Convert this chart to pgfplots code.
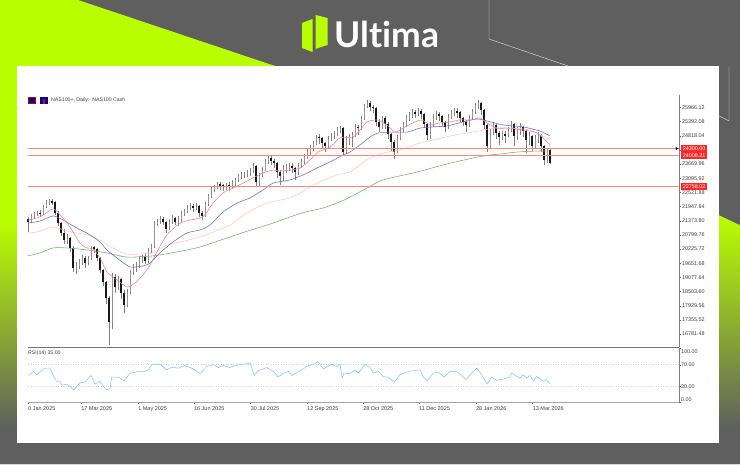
\documentclass[border=0pt]{standalone}
\usepackage{fontspec}
\setmainfont{Liberation Sans}
\newfontfamily\logofont{Lato}[Ligatures=NoCommon]
\usepackage{pgfplots}
\usepackage{pgfplotstable}
\pgfplotsset{compat=1.18}
\definecolor{lime}{RGB}{186,255,0}
\definecolor{bgg}{RGB}{95,95,95}
\definecolor{hl}{RGB}{244,135,135}
\definecolor{maR}{RGB}{238,130,130}
\definecolor{maB}{RGB}{105,105,210}
\definecolor{maP}{RGB}{250,200,190}
\definecolor{maG}{RGB}{110,175,110}
\definecolor{rsi}{RGB}{130,190,240}
\definecolor{tag}{RGB}{255,40,40}
\pgfplotstableread{
k o c h l
0 21460 21320 21530 20920
1 21320 21570 21650 21280
2 21570 21650 21740 21450
3 21650 21690 21780 21560
4 21690 21650 21790 21530
5 21650 21930 22000 21600
6 21930 22090 22200 21880
7 22090 22170 22260 22030
8 22170 22130 22250 22000
9 22130 21690 22180 21620
10 21690 21280 21750 21150
11 21280 20880 21320 20740
12 20880 20590 21020 20420
13 20590 20670 20840 20430
14 20670 20270 20720 20120
15 20270 19460 20340 19300
16 19460 19540 19720 19200
17 19540 19700 19840 19400
18 19700 19860 19980 19560
19 19860 19660 19930 19440
20 19660 19860 19960 19560
21 19860 20230 20330 19800
22 20300 20230 20350 20060
23 20230 19860 20280 19740
24 19860 19380 19900 19240
25 19380 18890 19420 18720
26 18890 18240 18950 18000
27 18240 17270 18310 16330
28 17270 19090 19250 17000
29 19090 18690 19200 18450
30 18690 19010 19150 18550
31 19010 18440 19060 18200
32 18440 17960 18560 17640
33 17960 18480 18620 17880
34 18480 19300 19380 18400
35 19300 19460 19620 19180
36 19460 19540 19700 19300
37 19540 19820 19950 19440
38 19820 19900 20000 19660
39 19900 19740 20070 19600
40 19740 20150 20260 19680
41 20150 20350 20440 20050
42 20350 21240 21350 20260
43 21240 21360 21460 21150
44 21360 21440 21560 21260
45 21440 21320 21520 21200
46 21320 21040 21380 20880
47 21040 21320 21440 20980
48 21320 21480 21600 21260
49 21480 21320 21540 21200
50 21320 21440 21560 21160
51 21440 21650 21760 21340
52 21650 21770 21870 21580
53 21770 21890 22000 21700
54 21890 21970 22090 21810
55 21970 21890 22040 21730
56 21890 21970 22100 21790
57 21970 21690 22020 21540
58 21690 21570 21770 21420
59 21570 22050 22140 21520
60 22050 22380 22450 21980
61 22380 22620 22730 22300
62 22620 22740 22840 22520
63 22740 22860 22960 22660
64 22860 22820 22950 22640
65 22820 22740 22880 22600
66 22740 22780 22920 22640
67 22840 22780 22940 22600
68 22780 22900 23010 22700
69 22900 23030 23120 22780
70 23030 23190 23280 22960
71 23190 23230 23340 23070
72 23230 23270 23370 23110
73 23270 23350 23450 23160
74 23350 23390 23510 23200
75 23390 23590 23720 23310
76 23590 22940 23640 22740
77 22940 23190 23300 22780
78 23190 23430 23540 23130
79 23430 23760 23880 23380
80 23760 23920 24000 23680
81 23920 23800 23980 23620
82 23800 23720 23870 23520
83 23720 23350 23760 23110
84 23350 23190 23420 22810
85 23190 23510 23630 23000
86 23440 23510 23680 23320
87 23510 23590 23720 23380
88 23590 23510 23700 23330
89 23510 23350 23560 23030
90 23350 23590 23700 23210
91 23590 23760 23880 23500
92 23760 23960 24060 23680
93 23960 24160 24270 23880
94 24160 24280 24430 24040
95 24280 24490 24610 24200
96 24490 24730 24860 24440
97 24780 24730 24880 24500
98 24730 24530 24770 24330
99 24530 24400 24580 24170
100 24400 24690 24790 24320
101 24690 24810 24920 24600
102 24810 24890 25000 24690
103 24890 25050 25160 24800
104 25050 25130 25210 24930
105 25130 24160 25190 24010
106 24160 24650 24800 24080
107 24650 24770 24900 24440
108 24770 24850 24980 24350
109 24850 25180 25280 24770
110 25180 25130 25260 24850
111 25130 25540 25620 25050
112 25540 26030 26110 25460
113 26030 26150 26290 25950
114 26150 25990 26230 25820
115 25990 25950 26080 25760
116 25950 25380 25990 25220
117 25380 25180 25480 24970
118 25180 25540 25620 25100
119 25540 25300 25620 25090
120 25300 24890 25360 24690
121 24890 24570 24940 24200
122 24570 24160 24650 23860
123 24160 24730 24840 24120
124 24730 25050 25180 24640
125 25050 25260 25380 24970
126 25260 25540 25660 25180
127 25540 25660 25790 25420
128 25660 25780 25910 25540
129 25780 25740 25870 25540
130 25740 25820 25950 25620
131 25820 25700 25910 25500
132 25700 25300 25750 25130
133 25300 24850 25340 24640
134 24850 25260 25360 24700
135 25260 25580 25690 25170
136 25580 25700 25820 25460
137 25700 25620 25800 25420
138 25620 25380 25670 25220
139 25380 25180 25420 24980
140 25180 25580 25690 25090
141 25580 25740 25860 25500
142 25740 25820 25960 25620
143 25820 25780 25940 25560
144 25780 25540 25820 25380
145 25540 25380 25580 25220
146 25380 25260 25440 24990
147 25260 25540 25660 25180
148 25540 25780 25900 25460
149 25780 26030 26130 25700
150 26030 26150 26290 25900
151 26150 25860 26190 25660
152 25860 25260 25900 25090
153 25260 24400 25300 24170
154 24400 24970 25090 24320
155 24970 25260 25380 24850
156 25260 24930 25300 24690
157 24930 24770 25000 24450
158 24770 24890 25020 24650
159 24890 24850 25010 24530
160 24850 25050 25170 24770
161 25050 25300 25420 24970
162 25300 24810 25340 24410
163 24810 25050 25170 24650
164 25050 25180 25330 24860
165 25180 25010 25230 24770
166 25010 24650 25100 24120
167 24650 24810 24970 24450
168 24810 24400 24860 24200
169 24400 24730 24840 24280
170 24730 24850 24970 24530
171 24850 24400 24900 24160
172 24400 23840 24450 23640
173 23840 24240 24340 23720
174 24240 23710 24300 23670
}\candles
\begin{document}
\begin{tikzpicture}[x=1pt,y=1pt]
\path[use as bounding box] (0,0) rectangle (740,465);
\fill[bgg] (0,0) rectangle (740,465);
% lime areas and gradient strips
\fill[lime] (0,465) -- (78,465) -- (275,399) -- (0,399) -- cycle;
\fill[lime] (0,399) rectangle (17.5,245);
\shade[top color=lime,bottom color=bgg] (0,245) rectangle (17.5,35);
\shade[top color=lime,bottom color=bgg] (719,250) -- (740,240) -- (740,35) -- (719,35) -- cycle;
\fill[bgg] (719,250) -- (740,240) -- (740,262) -- (719,262) -- cycle;
% thin outlines
\draw[white!85!black,line width=.45pt] (489,465) -- (489,426) -- (568,399);
\draw[white!85!black,line width=.45pt] (729,398) -- (729,344) -- (719,349);
\fill[white!85!black] (0,0) rectangle (740,1);
% white panel
\fill[white] (17,22) rectangle (719,399);
% logo
\fill[lime] (302,442) -- (312.5,446) -- (312.5,413) -- (302,417) -- cycle;
\fill[lime] (315.5,450) -- (327.5,447) -- (327.5,420) -- (315.5,416) -- cycle;
\node[anchor=base west,inner sep=0pt,text=white] at (334,417.5) {\logofont\bfseries\fontsize{35.5}{38}\selectfont Ultima};
% title
\fill[red!75!black] (28,361) rectangle (36,368);
\fill[blue!55!black] (29,362) rectangle (35,367);
\fill[blue!60!black] (40,361) rectangle (48,368);
\fill[red!85!black] (43,361) rectangle (45,366);
\node[anchor=west,inner sep=0pt,text=black!75] at (51,364.5) {\fontsize{5.2}{6}\selectfont NAS100+, Daily:\ \ NAS100 Cash};
% main pane
\begin{axis}[
  at={(28pt,117.5pt)},anchor=south west,scale only axis,width=651pt,height=252.5pt,
  xmin=0,xmax=217,ymin=16234,ymax=26473,clip=false,scaled y ticks=false,
  axis x line*=bottom,axis y line*=right,axis line style={-},
  x axis line style={draw=black!55,line width=1.3pt},
  y axis line style={draw=black!50,line width=.4pt},
  xtick=\empty,
  ytick={25966.12,25392.08,24818.04,24244.00,23669.96,23095.92,22521.88,21947.84,21373.80,20799.76,20225.72,19651.68,19077.64,18503.60,17929.56,17355.52,16781.48},
  yticklabels={25966.12,25392.08,24818.04,24244.00,23669.96,23095.92,22521.88,21947.84,21373.80,20799.76,20225.72,19651.68,19077.64,18503.60,17929.56,17355.52,16781.48},
  yticklabel style={font=\fontsize{5.4}{6}\selectfont,text=black!75,inner sep=0pt,xshift=1pt},
  major tick length=2pt,tick style={draw=black!60,line width=.3pt},tick align=outside,
]
\addplot[draw=none,no marks,forget plot,error bars/.cd,y dir=both,y explicit,error mark=none,
  error bar style={draw=black!50,line width=.35pt}]
  table[x=k,y expr={(\thisrow{h}+\thisrow{l})/2},y error expr={(\thisrow{h}-\thisrow{l})/2}] {\candles};
\addplot[draw=none,no marks,forget plot,
  error bars/.cd,y dir=both,y explicit,error mark=none,error bar style={draw=black!42,line width=1pt}]
  table[x=k,y expr={\thisrow{c}>=\thisrow{o} ? (\thisrow{o}+\thisrow{c})/2 : nan},y error expr={abs(\thisrow{o}-\thisrow{c})/2}] {\candles};
\addplot[draw=none,no marks,forget plot,
  error bars/.cd,y dir=both,y explicit,error mark=none,error bar style={draw=black!90,line width=1.1pt}]
  table[x=k,y expr={\thisrow{c}<\thisrow{o} ? (\thisrow{o}+\thisrow{c})/2 : nan},y error expr={abs(\thisrow{o}-\thisrow{c})/2}] {\candles};
% moving averages
\addplot[maG,line width=.55pt,no marks,smooth,tension=.4] coordinates {(0,19950)(4,20070)(8.3,20270)(13,20270)(19.7,20190)(26.3,20070)(33,19900)(41.7,19950)(49.7,20110)(57.3,20310)(72.3,20920)(80.7,21240)(91.3,21690)(98.3,21890)(105.3,22210)(113,22700)(118.3,23030)(129.7,23350)(140.7,23710)(151.7,24000)(157.3,24080)(163,24160)(169.7,24200)(173,24200)};
\addplot[maP,line width=.55pt,no marks,smooth,tension=.4] coordinates {(0,20870)(3,20920)(8.3,21120)(14,20920)(19.7,20800)(24,20590)(28.3,20270)(33,20020)(37.3,20020)(41.7,20070)(46.3,20390)(50.7,20510)(57.3,20720)(67.3,21200)(73,21690)(79.7,22090)(88.3,22340)(96.3,22900)(103,23230)(107.3,23350)(113,23840)(118.3,24120)(124,24240)(129.7,24490)(135,24650)(140.7,24810)(146.3,24930)(151.7,25050)(155,25130)(160.7,25130)(167.3,25050)(174,24650)};
\addplot[maB,line width=.55pt,no marks,smooth,tension=.4] coordinates {(0,21280)(4,21360)(8.3,21570)(11.7,21400)(16.3,21080)(20.7,20800)(24,20510)(26.3,20190)(29.7,19860)(34,19500)(38.3,19540)(40.7,19660)(44,20070)(48.3,20510)(53,20880)(57.3,21000)(60.7,21200)(65,21730)(69.7,22090)(74,22300)(78.3,22620)(81.7,22900)(87.3,23030)(91.7,23230)(96.3,23510)(100.7,23760)(105,24040)(107.3,24160)(110.7,24450)(114,24770)(116.7,24930)(121.7,24970)(126.3,24970)(130.7,25130)(135,25180)(139.7,25220)(145,25380)(149.7,25500)(153,25420)(158.3,25260)(165,25180)(170.7,25010)(174,24810)};
\addplot[maR,line width=.55pt,no marks,smooth,tension=.4] coordinates {(0,21400)(4,21530)(8.3,21850)(10.7,21610)(14,21120)(17.3,20470)(19.7,20270)(21.7,20230)(24,19860)(26.3,19300)(29.7,18970)(33,18690)(35.7,18850)(38.3,19170)(40.7,19580)(43,20110)(46.3,20800)(50.7,21280)(54,21400)(58.3,21530)(61.7,22090)(65,22500)(68.3,22700)(71.7,22900)(75,23110)(78.3,23310)(81.7,23430)(84,23390)(87.3,23430)(90.7,23510)(94,23840)(96.7,24160)(100.7,24360)(104,24730)(108.3,24770)(110.7,25050)(113,25380)(116.3,25460)(119.7,25260)(122.3,24970)(125,25130)(128.3,25340)(131.3,25460)(134,25260)(137.3,25340)(140.7,25380)(144,25460)(147.3,25460)(150.7,25540)(153,25340)(156.3,25130)(160.7,25130)(165,25050)(169.7,24930)(174,24450)};
% horizontal levels
\addplot[hl,line width=.85pt,no marks] coordinates {(0,24300)(217,24300)};
\addplot[hl,line width=.85pt,no marks] coordinates {(0,24008.21)(217,24008.21)};
\addplot[hl,line width=.85pt,no marks] coordinates {(0,22757)(217,22757)};
\addplot[only marks,mark=triangle*,mark size=1.3pt,mark options={rotate=-90,fill=black,draw=black}] coordinates {(216.2,24300)};
\node[fill=tag,text=white,inner sep=0pt,anchor=west,minimum width=26pt,minimum height=6.6pt,xshift=2pt,font=\fontsize{5.4}{6}\selectfont] at (axis cs:217,24300) {24300.00};
\node[fill=tag,text=white,inner sep=0pt,anchor=west,minimum width=26pt,minimum height=6.6pt,xshift=2pt,font=\fontsize{5.4}{6}\selectfont] at (axis cs:217,24008.21) {24008.21};
\node[fill=tag,text=white,inner sep=0pt,anchor=west,minimum width=26pt,minimum height=6.6pt,xshift=2pt,font=\fontsize{5.4}{6}\selectfont] at (axis cs:217,22757) {22758.02};
\end{axis}
% RSI pane
\begin{axis}[
  at={(28pt,62.5pt)},anchor=south west,scale only axis,width=651pt,height=54pt,
  xmin=0,xmax=217,ymin=0,ymax=100,clip=false,
  axis x line*=bottom,axis y line*=right,axis line style={-},
  x axis line style={draw=black!35,line width=1.1pt},
  y axis line style={draw=black!50,line width=.4pt},
  xtick={0,17.7,36.7,55.3,74.2,93,111.7,130.3,149.3,168.2},
  xticklabels={0 Jan 2025,17 Mar 2025,1 May 2025,16 Jun 2025,30 Jul 2025,12 Sep 2025,28 Oct 2025,11 Dec 2025,28 Jan 2026,13 Mar 2026},
  xticklabel style={font=\fontsize{5.5}{6}\selectfont,text=black!75,anchor=north west,inner sep=0pt,yshift=-1.5pt},
  ytick={100,70,30,0},yticklabels={,,,},
  major tick length=2pt,tick style={draw=black!60,line width=.3pt},tick align=outside,
]
\addplot[black!18,dotted,line width=.5pt,no marks] coordinates {(0,70)(217,70)};
\addplot[black!18,dotted,line width=.5pt,no marks] coordinates {(0,30)(217,30)};
\addplot[rsi,line width=.5pt,no marks] coordinates {(0.1,50.1)(1.8,57.5)(2.9,51.4)(4.2,57.5)(5.7,63.6)(7.3,63.6)(8.1,54.4)(9.3,40.3)(10.7,37.9)(11.2,31.8)(12.9,34.2)(15.3,23.2)(17.3,36.1)(19,37.9)(21,50.1)(22.3,34.2)(24,39.1)(26,23.8)(27.3,25)(27.9,47.1)(30.1,47.1)(32,40.3)(34,54.4)(36.8,57.5)(38.7,57.5)(40.1,60.5)(41.2,69.7)(44,70.9)(46.2,60.5)(47.9,65.4)(50.1,63.6)(52.3,68.5)(55.1,62.4)(57.3,53.2)(59.6,66.6)(61.8,69.7)(63.4,64.8)(65.1,68.5)(67.3,64.8)(70.1,69.7)(74,72.8)(75.4,50.1)(76.8,58.7)(79.6,64.8)(81.8,57.5)(83.4,47.1)(85.1,54.4)(86.8,57.5)(87.9,50.1)(90.7,58.7)(93.4,68.5)(95.1,69.7)(96.6,75.8)(98.4,62.4)(101.2,70.9)(102.9,66.6)(104,70.9)(104.7,45.2)(105.3,54.4)(107.3,53.2)(109,60.5)(110.1,54.4)(112.3,70.9)(114,64.8)(115.1,54.4)(116.8,57.5)(118.4,48.3)(120.1,46.5)(122,37.3)(124,51.4)(126.8,57.5)(130.7,60.5)(131.8,47.1)(133.1,40.3)(135.1,54.4)(136.8,56.2)(138.7,47.1)(140.7,57.5)(142.9,57.5)(144.2,51.4)(146,42.2)(147.9,54.4)(149.6,63.6)(151.2,51.4)(153.1,34.2)(154.6,47.1)(156.2,41)(158.4,43.4)(160.7,47.1)(161.2,54.4)(164,45.2)(165.1,51.4)(166.2,45.2)(167.3,50.1)(168.4,40.3)(169.6,48.3)(171.8,39.1)(172.9,42.2)(174,34.2)};
\node[anchor=north west,inner sep=0pt,text=black!75,font=\fontsize{5.2}{6}\selectfont] at (axis cs:0,97) {RSI(14) 35.00};
\node[anchor=west,inner sep=0pt,text=black!75,xshift=2pt,font=\fontsize{5.4}{6}\selectfont] at (axis cs:217,94) {100.00};
\node[anchor=west,inner sep=0pt,text=black!75,xshift=2pt,font=\fontsize{5.4}{6}\selectfont] at (axis cs:217,70) {70.00};
\node[anchor=west,inner sep=0pt,text=black!75,xshift=2pt,font=\fontsize{5.4}{6}\selectfont] at (axis cs:217,30) {30.00};
\node[anchor=west,inner sep=0pt,text=black!75,xshift=2pt,font=\fontsize{5.4}{6}\selectfont] at (axis cs:217,4.6) {0.00};
\end{axis}
\end{tikzpicture}
\end{document}
